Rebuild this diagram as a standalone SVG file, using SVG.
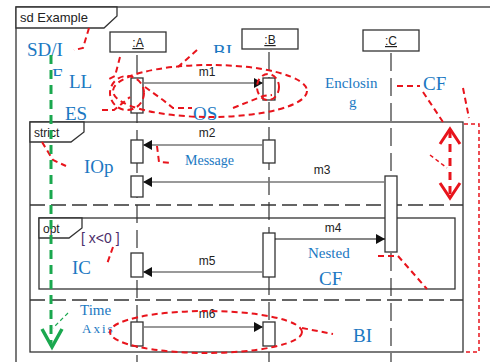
<svg xmlns="http://www.w3.org/2000/svg" width="490" height="362" viewBox="0 0 490 362">
<defs>
<style>
.frm{fill:none;stroke:#333;stroke-width:1.3}
.lbl{fill:#fff;stroke:#333;stroke-width:1.3}
.sep{fill:none;stroke:#333;stroke-width:1.3;stroke-dasharray:15,6}
.life{fill:none;stroke:#444;stroke-width:1.3;stroke-dasharray:18,7}
.head{fill:#fff;stroke:#333;stroke-width:1.3}
.act{fill:#fff;stroke:#333;stroke-width:1.3}
.msg{fill:none;stroke:#777;stroke-width:1.5}
.msgk{fill:none;stroke:#111;stroke-width:1.2}
.t{font-family:"Liberation Sans",Arial,sans-serif;fill:#222}
.ann{font-family:"Liberation Serif","Times New Roman",serif;fill:#1b78c2}
.red{fill:none;stroke:#e8141c;stroke-width:2;stroke-dasharray:6,4}
.redt{fill:none;stroke:#e8141c;stroke-width:1.5;stroke-dasharray:4,3}
</style>
<marker id="ah" markerWidth="10" markerHeight="10" refX="9" refY="5" orient="auto" markerUnits="userSpaceOnUse">
<path d="M0,0 L9,5 L0,10 Z" fill="#111"/>
</marker>
<clipPath id="cF"><rect x="0" y="60" width="100" height="16"/></clipPath>
<clipPath id="cBI"><rect x="200" y="30" width="40" height="23"/></clipPath>
</defs>

<g id="frame">
<rect class="frm" x="16" y="7" width="500" height="400"/>
<path class="lbl" d="M16,7 H117 V16 L104,28 H16 Z"/>
<text class="t" x="20" y="22" font-size="13">sd Example</text>
</g>

<g id="lifelines">
<line class="life" x1="137" y1="55" x2="137" y2="362"/>
<line class="life" x1="269" y1="52" x2="269" y2="362"/>
<line class="life" x1="391" y1="53" x2="391" y2="362"/>
</g>

<g id="A">
<rect class="head" x="110" y="32" width="56" height="20"/>
<text class="t" x="138" y="47" font-size="12" text-anchor="middle" text-decoration="underline">:A</text>
</g>
<g id="B">
<rect class="head" x="242" y="29" width="56" height="20"/>
<text class="t" x="270" y="44" font-size="12" text-anchor="middle" text-decoration="underline">:B</text>
</g>
<g id="C">
<rect class="head" x="363" y="30" width="56" height="21"/>
<text class="t" x="391" y="45" font-size="12" text-anchor="middle" text-decoration="underline">:C</text>
</g>

<g id="strict">
<rect class="frm" x="30" y="122" width="433" height="230"/>
<path class="lbl" d="M30,122 H84 V132 L71,142 H30 Z"/>
<text class="t" x="34" y="137" font-size="12">strict</text>
<line class="sep" x1="30" y1="205" x2="463" y2="205"/>
<line class="sep" x1="30" y1="300" x2="463" y2="300"/>
</g>

<g id="opt">
<rect class="frm" x="39" y="218" width="416" height="71"/>
<path class="lbl" d="M39,218 H82 V228 L69,238 H39 Z"/>
<text class="t" x="43" y="233" font-size="12">opt</text>
<text x="81" y="243" font-size="14" font-family="Liberation Sans,Arial,sans-serif" fill="#4b2e6a">[ x&lt;0 ]</text>
</g>

<g id="activations">
<rect class="act" x="131" y="78" width="12" height="35"/>
<rect class="act" x="263" y="78" width="12" height="22"/>
<rect class="act" x="131" y="140" width="12" height="23"/>
<rect class="act" x="263" y="140" width="12" height="23"/>
<rect class="act" x="131" y="176" width="12" height="21"/>
<rect class="act" x="385" y="176" width="12" height="76"/>
<rect class="act" x="263" y="233" width="12" height="44"/>
<rect class="act" x="131" y="253" width="12" height="24"/>
<rect class="act" x="131" y="322" width="12" height="24"/>
<rect class="act" x="263" y="322" width="12" height="24"/>
</g>

<g id="connectors">
<line class="msg" x1="143" y1="83" x2="263" y2="83" marker-end="url(#ah)"/>
<text class="t" x="207" y="76" font-size="12" text-anchor="middle">m1</text>
<line class="msg" x1="263" y1="145" x2="143" y2="145" marker-end="url(#ah)"/>
<text class="t" x="207" y="137" font-size="12" text-anchor="middle">m2</text>
<line class="msg" x1="385" y1="182" x2="143" y2="182" marker-end="url(#ah)"/>
<text class="t" x="322" y="174" font-size="12" text-anchor="middle">m3</text>
<line class="msgk" x1="275" y1="239" x2="385" y2="239" marker-end="url(#ah)"/>
<text class="t" x="333" y="232" font-size="12" text-anchor="middle">m4</text>
<line class="msg" x1="263" y1="272" x2="143" y2="272" marker-end="url(#ah)"/>
<text class="t" x="207" y="265" font-size="12" text-anchor="middle">m5</text>
<line class="msg" x1="143" y1="327" x2="263" y2="327" marker-end="url(#ah)"/>
<text class="t" x="207" y="318" font-size="12" text-anchor="middle">m6</text>
</g>

<g id="annotations">
<text class="ann" x="27" y="56" font-size="19">SD/I</text>
<text class="ann" x="52" y="82" font-size="19" clip-path="url(#cF)">F</text>
<text class="ann" x="69" y="88" font-size="19">LL</text>
<text class="ann" x="65" y="120" font-size="19">ES</text>
<text class="ann" x="213" y="58" font-size="19" clip-path="url(#cBI)">BI</text>
<text class="ann" x="193" y="120" font-size="19">OS</text>
<text class="ann" x="325" y="88" font-size="15">Enclosin</text>
<text class="ann" x="349" y="107" font-size="15">g</text>
<text class="ann" x="423" y="90" font-size="19">CF</text>
<text class="ann" x="84" y="173" font-size="19">IOp</text>
<text class="ann" x="185" y="165" font-size="14">Message</text>
<text class="ann" x="72" y="274" font-size="19">IC</text>
<text class="ann" x="308" y="258" font-size="15">Nested</text>
<text class="ann" x="319" y="285" font-size="19">CF</text>
<text class="ann" x="80" y="315" font-size="15">Time</text>
<text class="ann" x="82" y="333" font-size="13" letter-spacing="2">Axis</text>
<text class="ann" x="353" y="342" font-size="19">BI</text>
</g>

<g id="marks">
<path class="red" d="M89,28 L83,48 L74,50"/>
<path class="red" d="M120,57 L115,76 L107,80"/>
<path class="red" d="M102,110 L114,110 L130,97"/>
<ellipse class="red" cx="127" cy="93" rx="17" ry="17"/>
<ellipse class="red" cx="210" cy="91" rx="97" ry="26"/>
<ellipse class="red" cx="268" cy="87" rx="11" ry="13"/>
<path class="red" d="M197,50 L178,67"/>
<path class="red" d="M145,87 L163,100 L173,108 L192,108"/>
<path class="red" d="M233,108 L263,96 L272,95"/>
<path class="red" d="M397,86 L420,86"/>
<path class="red" d="M423,92 L445,125"/>
<path class="red" d="M463,88 L469,118"/>
<path class="redt" d="M464,124 H479 V352 H463"/>
<path class="redt" d="M430,155 L447,168"/>
<g fill="none" stroke="#e8141c" stroke-width="3">
<line x1="450" y1="130" x2="450" y2="196" stroke-dasharray="8,6"/>
<path d="M440,144 L450,129 L460,144 M440,183 L450,198 L460,183"/>
</g>
<path class="red" d="M42,142 L53,160 L66,166"/>
<path class="red" d="M157,146 L159,162 L172,163"/>
<path class="red" d="M113,247 L107,264"/>
<path class="red" d="M378,256 L398,256 L427,289"/>
<ellipse class="red" cx="206" cy="332" rx="96" ry="21" stroke-width="1.5"/>
<path class="red" d="M302,328 L333,334" stroke-width="1.8"/>
<g stroke="#1aa84f" fill="none">
<line x1="51" y1="55" x2="51" y2="343" stroke-width="3" stroke-dasharray="9,6"/>
<path d="M42,329 L52,347 L62,329" stroke-width="3.5"/>
<line x1="68" y1="313" x2="53" y2="328" stroke-width="1.2" stroke-dasharray="4,3"/>
</g>
</g>
</svg>
